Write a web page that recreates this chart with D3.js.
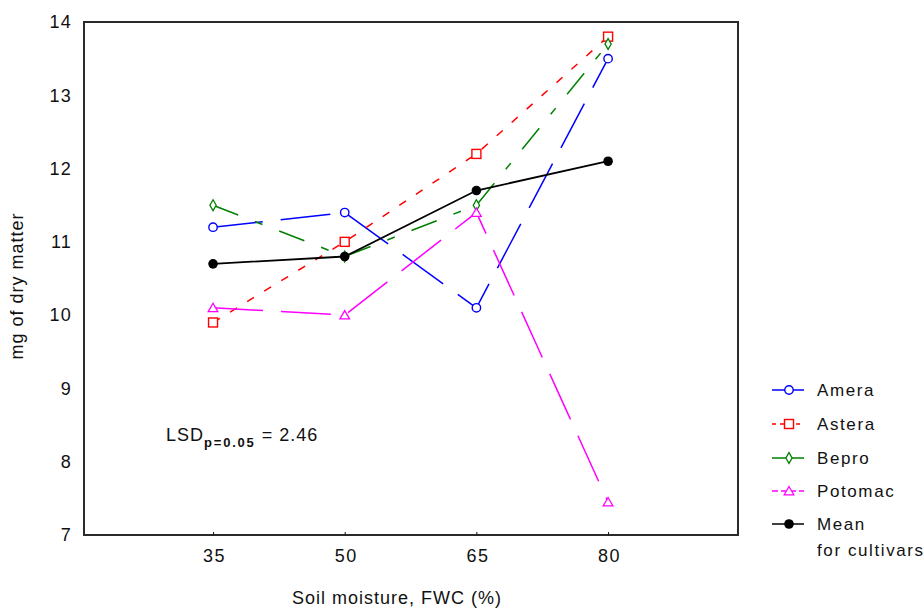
<!DOCTYPE html>
<html>
<head>
<meta charset="utf-8">
<script src="https://cdn.jsdelivr.net/npm/d3@7/dist/d3.min.js"></script>
<style>
  html, body { margin: 0; padding: 0; background: #fff; }
  svg { display: block; font-family: "Liberation Sans", Arial, sans-serif; }
</style>
</head>
<body>
<svg id="chart" width="924" height="610"></svg>
<script>
// Soil moisture levels (% of field water capacity)
const moisture = [35, 50, 65, 80];
// Dry matter (mg) per cultivar
const amera = [11.2, 11.4, 10.1, 13.5];
const astera = [9.9, 11.0, 12.2, 13.8];
const bepro = [11.5, 10.8, 11.5, 13.7];
const potomac = [10.1, 10.0, 11.4, 7.45];
const meanCultivars = [10.7, 10.8, 11.7, 12.1];
const yTicks = [7, 8, 9, 10, 11, 12, 13, 14];
const seriesNames = ["Amera", "Astera", "Bepro", "Potomac", "Mean"];
const lsdValue = 2.46;

const series = [
  { name: seriesNames[0], values: amera, color: "#0000ff", dash: "50,18", marker: "circle" },
  { name: seriesNames[1], values: astera, color: "#ff0000", dash: "8,12", marker: "square" },
  { name: seriesNames[2], values: bepro, color: "#008000", dash: "27,18,8,18", marker: "diamond" },
  { name: seriesNames[3], values: potomac, color: "#ff00ff", dash: "50,18", marker: "triangle" },
  { name: seriesNames[4], values: meanCultivars, color: "#000000", dash: null, marker: "dot" }
];

const svg = d3.select("#chart");
const plotL = 84, plotR = 738, plotT = 22, plotB = 535;
const textColor = "#111";

const x = d3.scaleLinear().domain([20.3, 94.8]).range([plotL, plotR]);
const y = d3.scaleLinear().domain([7, 14]).range([plotB, plotT]);

// Frame
svg.append("rect")
  .attr("x", plotL).attr("y", plotT)
  .attr("width", plotR - plotL).attr("height", plotB - plotT)
  .attr("fill", "none").attr("stroke", "#2a2a2a").attr("stroke-width", 2);

// Y axis labels
const yAxis = d3.axisLeft(y).tickValues(yTicks).tickSize(0).tickPadding(12).tickFormat(d3.format("d"));
const gy = svg.append("g").attr("transform", `translate(${plotL},0)`).call(yAxis);
gy.select(".domain").remove();
gy.selectAll("text").attr("font-size", 18).attr("letter-spacing", 1.2).attr("fill", textColor)
  .attr("font-family", "Liberation Sans, Arial, sans-serif");

// X axis labels with small inward ticks
const xAxis = d3.axisBottom(x).tickValues(moisture).tickSize(-3).tickPadding(14).tickFormat(d3.format("d"));
const gx = svg.append("g").attr("transform", `translate(0,${plotB})`).call(xAxis);
gx.select(".domain").remove();
gx.selectAll("line").attr("stroke", textColor);
gx.selectAll("text").attr("font-size", 18).attr("letter-spacing", 1.5).attr("dx", 1).attr("fill", textColor)
  .attr("font-family", "Liberation Sans, Arial, sans-serif");

// Axis titles
svg.append("text")
  .attr("x", 397).attr("y", 604)
  .attr("text-anchor", "middle").attr("font-size", 18).attr("letter-spacing", 1)
  .attr("fill", textColor)
  .text("Soil moisture, FWC (%)");
svg.append("text")
  .attr("transform", `translate(23,286) rotate(-90)`)
  .attr("text-anchor", "middle").attr("font-size", 18).attr("letter-spacing", 1)
  .attr("fill", textColor)
  .text("mg of dry matter");

// LSD annotation
const lsd = svg.append("text").attr("x", 166).attr("y", 441).attr("font-size", 18)
  .attr("letter-spacing", 1).attr("fill", textColor);
lsd.append("tspan").text("LSD");
lsd.append("tspan").attr("dy", 6).attr("font-size", 13).attr("font-weight", "bold")
  .attr("letter-spacing", 1.8).text("p=0.05");
lsd.append("tspan").attr("dy", -6).text(" = " + lsdValue.toFixed(2));

function drawMarker(g, type, color, cx, cy) {
  if (type === "circle") {
    g.append("circle").attr("cx", cx).attr("cy", cy).attr("r", 4.2)
      .attr("fill", "#fff").attr("stroke", color).attr("stroke-width", 1.4);
  } else if (type === "square") {
    g.append("rect").attr("x", cx - 4.5).attr("y", cy - 4.5).attr("width", 9).attr("height", 9)
      .attr("fill", "#fff").attr("stroke", color).attr("stroke-width", 1.4);
  } else if (type === "diamond") {
    g.append("path").attr("transform", `translate(${cx},${cy})`)
      .attr("d", d3.symbol().type(d3.symbolDiamond).size(34)())
      .attr("fill", "#fff").attr("stroke", color).attr("stroke-width", 1.3);
  } else if (type === "triangle") {
    g.append("path").attr("transform", `translate(${cx},${cy + 1})`)
      .attr("d", d3.symbol().type(d3.symbolTriangle).size(40)())
      .attr("fill", "#fff").attr("stroke", color).attr("stroke-width", 1.3);
  } else {
    g.append("circle").attr("cx", cx).attr("cy", cy).attr("r", 4.8).attr("fill", color);
  }
}

const line = d3.line().x((d, i) => x(moisture[i])).y(d => y(d));

series.forEach(s => {
  const g = svg.append("g");
  g.append("path")
    .attr("d", line(s.values))
    .attr("fill", "none")
    .attr("stroke", s.color)
    .attr("stroke-width", s.dash ? 1.5 : 1.8)
    .attr("stroke-dasharray", s.dash);
  s.values.forEach((v, i) => drawMarker(g, s.marker, s.color, x(moisture[i]), y(v)));
});

// Legend
const legendY = [390, 424, 458, 491, 524];
series.forEach((s, i) => {
  const g = svg.append("g");
  const ly = legendY[i];
  g.append("line").attr("x1", 772).attr("x2", 804).attr("y1", ly).attr("y2", ly)
    .attr("stroke", s.color).attr("stroke-width", 1.5)
    .attr("stroke-dasharray", s.name === "Astera" ? "4,4" : (s.name === "Potomac" ? "6,3" : null));
  drawMarker(g, s.marker, s.color, 789, ly);
  g.append("text").attr("x", 817).attr("y", ly + 6).attr("font-size", 17)
    .attr("letter-spacing", 1.6).attr("fill", textColor)
    .text(s.name);
});
svg.append("text").attr("x", 817).attr("y", 556).attr("font-size", 17)
  .attr("letter-spacing", 1.6).attr("fill", textColor)
  .text("for cultivars");
</script>
</body>
</html>
